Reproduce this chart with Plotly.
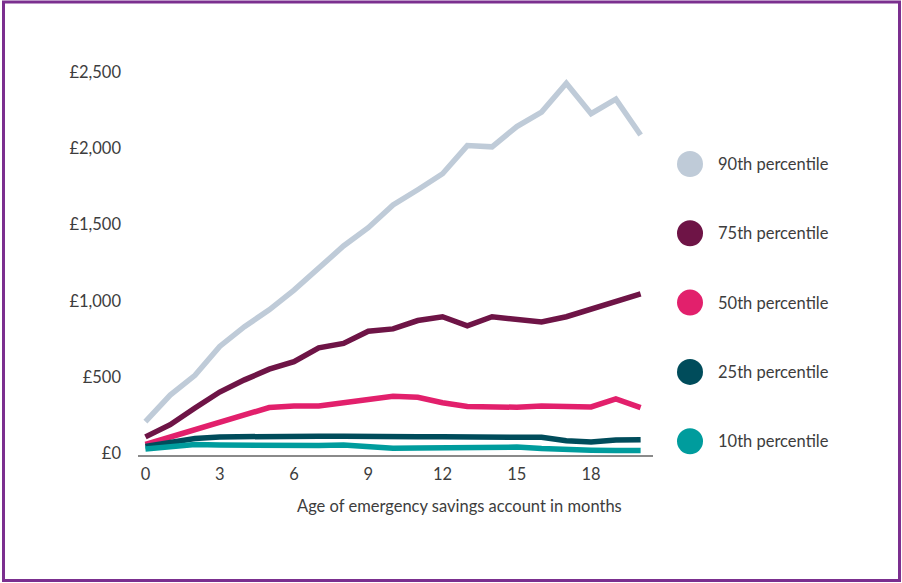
import plotly.graph_objects as go

# Months since the emergency savings account was opened
months = list(range(21))

# Balance by percentile (GBP)
p90 = [205, 380, 510, 700, 830, 940, 1070, 1220, 1360, 1480, 1630,
       1730, 1835, 2020, 2012, 2145, 2240, 2430, 2230, 2325, 2090]
p75 = [105, 185, 295, 400, 480, 550, 600, 690, 720, 800, 815,
       870, 895, 835, 895, 880, 860, 895, 945, 995, 1045]
p50 = [55, 105, 155, 205, 255, 298, 308, 308, 330, 352, 372,
       366, 330, 305, 302, 300, 308, 306, 302, 355, 298]
p25 = [42, 70, 95, 105, 108, 108, 108, 110, 110, 106, 103,
       106, 106, 103, 100, 102, 102, 80, 72, 85, 87]
p10 = [25, 38, 55, 52, 50, 50, 48, 48, 52, 42, 30,
       32, 32, 32, 38, 38, 28, 20, 18, 16, 15]

series_names = ["90th percentile", "75th percentile", "50th percentile",
                "25th percentile", "10th percentile"]
series_values = [p90, p75, p50, p25, p10]
series_colors = ["#BFCBD8", "#6E1446", "#E2206C", "#004C5B", "#009C9D"]

y_tickvals = [0, 500, 1000, 1500, 2000, 2500]
y_ticktext = ["£0", "£500", "£1,000", "£1,500", "£2,000", "£2,500"]
x_tickvals = [0, 3, 6, 9, 12, 15, 18]

FONT = "Lato, 'Open Sans', sans-serif"
TEXT = "#3d3d3d"
FS = 16.5

W, H = 902, 583
ML, MR, MT, MB = 138, W - 653, 65, H - 455

fig = go.Figure()
for name, vals, col in zip(series_names, series_values, series_colors):
    fig.add_trace(go.Scatter(
        x=months, y=vals, mode="lines", name=name,
        line=dict(color=col, width=5.5, shape="linear"),
        showlegend=False, hoverinfo="skip",
    ))

plot_w = W - ML - MR
plot_h = H - MT - MB


def px_x(px):
    return (px - ML) / plot_w


def px_y(py):
    return (H - MB - py) / plot_h


shapes = []
annotations = []

# Custom legend: coloured dot plus label
legend_top = 164
legend_step = 69.3
for i, (name, col) in enumerate(zip(series_names, series_colors)):
    cy = legend_top + i * legend_step
    r = 13
    shapes.append(dict(
        type="circle", xref="paper", yref="paper",
        x0=px_x(690 - r), x1=px_x(690 + r),
        y0=px_y(cy + r), y1=px_y(cy - r),
        fillcolor=col, line=dict(width=0),
    ))
    annotations.append(dict(
        text=name, xref="paper", yref="paper",
        x=px_x(716), y=px_y(cy), xanchor="left", yanchor="middle",
        showarrow=False, font=dict(family=FONT, size=FS, color=TEXT),
    ))

# X-axis title
annotations.append(dict(
    text="Age of emergency savings account in months",
    xref="paper", yref="paper", x=px_x(459), y=px_y(506),
    xanchor="center", yanchor="middle", showarrow=False,
    font=dict(family=FONT, size=FS, color=TEXT),
))

# Purple frame around the whole figure
shapes.append(dict(
    type="rect", xref="paper", yref="paper",
    x0=px_x(3.5), x1=px_x(899.5), y0=px_y(580.5), y1=px_y(2),
    line=dict(color="#7B2F8F", width=3), fillcolor="rgba(0,0,0,0)",
    layer="above",
))

fig.update_layout(
    width=W, height=H,
    margin=dict(l=ML, r=MR, t=MT, b=MB, pad=0),
    paper_bgcolor="white", plot_bgcolor="white",
    font=dict(family=FONT, size=FS, color=TEXT),
    shapes=shapes, annotations=annotations,
    xaxis=dict(
        range=[-0.3, 20.5], tickvals=x_tickvals,
        showgrid=False, zeroline=False,
        showline=True, linecolor="#8a8a8a", linewidth=1.5,
        ticks="outside", ticklen=3, tickcolor="rgba(0,0,0,0)",
        tickfont=dict(family=FONT, size=FS, color=TEXT),
    ),
    yaxis=dict(
        range=[-14, 2550], tickvals=y_tickvals, ticktext=y_ticktext,
        showgrid=False, zeroline=False, showline=False,
        ticks="", ticklabelstandoff=16,
        tickfont=dict(family=FONT, size=FS, color=TEXT),
    ),
)

fig.write_html("out.html")
